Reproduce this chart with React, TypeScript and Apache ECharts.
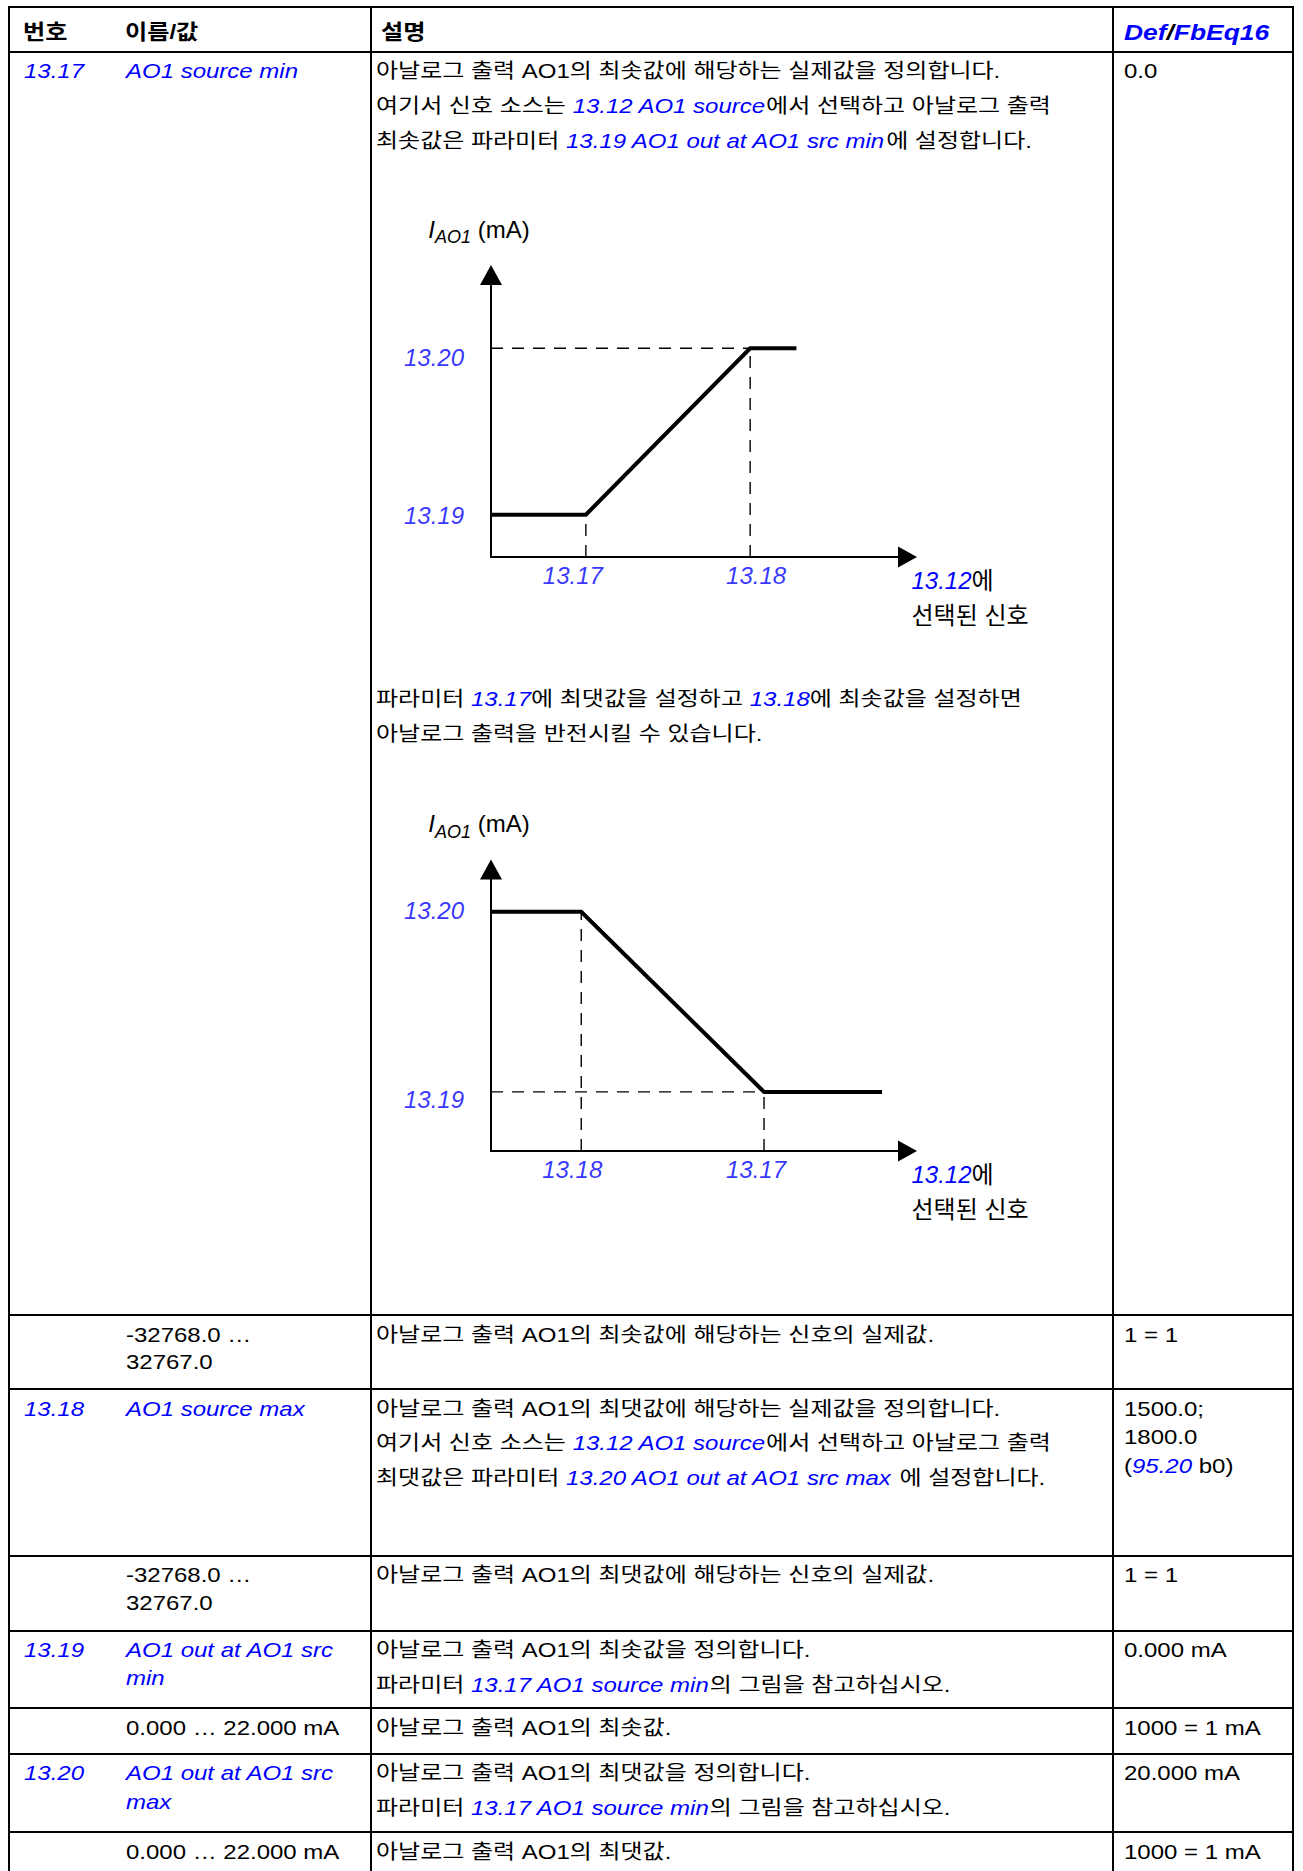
import React, { useEffect, useRef } from 'react';
import * as echarts from 'echarts';

const BLUE = '#0000ff';
const FONT = "'Liberation Sans', Arial, 'Noto Sans CJK KR', sans-serif";

// ---------- diagram data (schematic units) ----------
// normal scaling: output stays at 13.19 up to 13.17, ramps to 13.20 at 13.18
const normalX = [0, 2.05, 5.6, 6.6];
const normalY = [1.5, 1.5, 7.4, 7.4];
// inverted scaling: 13.17 > 13.18
const invertedX = [0, 1.95, 5.9, 8.45];
const invertedY = [8.5, 8.5, 2.1, 2.1];
const normalXTicks = ['13.17', '13.18'];
const invertedXTicks = ['13.18', '13.17'];
const normalYTicks = ['13.19', '13.20'];
const invertedYTicks = ['13.20', '13.19'];
const X_MAX = 9;
const Y_MAX = 10;
const xAxisTitle = ['13.12', '에', '선택된 신호'];
const yAxisTitle = ['I', 'AO1', ' (mA)'];

// ---------- table content ----------
const headerCells = ['번호', '이름/값', '설명'];
const headerDef = ['Def', '/', 'FbEq16'];
// [column, y, text]  ([...] = blue italic parameter reference)
const tableLines: [number, number, string][] = [
  [0, 71, '[13.17]'],
  [1, 71, '[AO1 source min]'],
  [2, 71, '아날로그 출력 AO1의 최솟값에 해당하는 실제값을 정의합니다.'],
  [3, 71, '0.0'],
  [2, 106, '여기서 신호 소스는 [13.12 AO1 source]에서 선택하고 아날로그 출력'],
  [2, 141, '최솟값은 파라미터 [13.19 AO1 out at AO1 src min]에 설정합니다.'],
  [2, 699, '파라미터 [13.17]에 최댓값을 설정하고 [13.18]에 최솟값을 설정하면'],
  [2, 734, '아날로그 출력을 반전시킬 수 있습니다.'],
  [1, 1335, '-32768.0 …'],
  [1, 1362, '32767.0'],
  [2, 1335, '아날로그 출력 AO1의 최솟값에 해당하는 신호의 실제값.'],
  [3, 1335, '1 = 1'],
  [0, 1409, '[13.18]'],
  [1, 1409, '[AO1 source max]'],
  [2, 1409, '아날로그 출력 AO1의 최댓값에 해당하는 실제값을 정의합니다.'],
  [2, 1443, '여기서 신호 소스는 [13.12 AO1 source]에서 선택하고 아날로그 출력'],
  [2, 1478, '최댓값은 파라미터 [13.20 AO1 out at AO1 src max] 에 설정합니다.'],
  [3, 1409, '1500.0;'],
  [3, 1437, '1800.0'],
  [3, 1466, '([95.20] b0)'],
  [1, 1575, '-32768.0 …'],
  [1, 1603, '32767.0'],
  [2, 1575, '아날로그 출력 AO1의 최댓값에 해당하는 신호의 실제값.'],
  [3, 1575, '1 = 1'],
  [0, 1650, '[13.19]'],
  [1, 1650, '[AO1 out at AO1 src]'],
  [1, 1678, '[min]'],
  [2, 1650, '아날로그 출력 AO1의 최솟값을 정의합니다.'],
  [2, 1685, '파라미터 [13.17 AO1 source min]의 그림을 참고하십시오.'],
  [3, 1650, '0.000 mA'],
  [1, 1728, '0.000 … 22.000 mA'],
  [2, 1728, '아날로그 출력 AO1의 최솟값.'],
  [3, 1728, '1000 = 1 mA'],
  [0, 1773, '[13.20]'],
  [1, 1773, '[AO1 out at AO1 src]'],
  [1, 1802, '[max]'],
  [2, 1773, '아날로그 출력 AO1의 최댓값을 정의합니다.'],
  [2, 1808, '파라미터 [13.17 AO1 source min]의 그림을 참고하십시오.'],
  [3, 1773, '20.000 mA'],
  [1, 1852, '0.000 … 22.000 mA'],
  [2, 1852, '아날로그 출력 AO1의 최댓값.'],
  [3, 1852, '1000 = 1 mA'],
];

// ---------- layout (pixels) ----------
const COL_X = [24, 126, 376, 1124];
const HEADER_X = [23, 125, 381];
const DEF_HEADER_X = 1124;
const HEADER_Y = 32;
const ROW_RULES = [7, 52, 1315, 1389, 1556, 1631, 1708, 1754, 1832];
const COL_RULES = [9, 371, 1113, 1293];
const PAGE_W = 1303;
const PAGE_H = 1871;
// label nudges (px) for each diagram's tick texts
const NORMAL_XLABEL_DX = [-13, 6];
const NORMAL_YLABEL_DY = [1, 9];
const INVERTED_XLABEL_DX = [-9, -8];
const INVERTED_YLABEL_DY = [-1, 8];

function markup(s: string): string {
  return s.replace(/\[([^\]]+)\]/g, '{b|$1}');
}

function tableText(x: number, y: number, text: string): any {
  return {
    type: 'text',
    x,
    y,
    scaleX: 1.2,
    silent: true,
    style: {
      text: markup(text),
      fontSize: 20,
      fontFamily: FONT,
      fill: '#000',
      align: 'left',
      verticalAlign: 'middle',
      textAlign: 'left',
      textVerticalAlign: 'middle',
      rich: {
        b: { fill: BLUE, fontStyle: 'italic', fontSize: 20, fontFamily: FONT },
      },
    },
  };
}

function buildGraphic(): any[] {
  const g: any[] = [];
  ROW_RULES.forEach((y) => {
    g.push({
      type: 'line',
      silent: true,
      shape: { x1: COL_RULES[0] - 1, y1: y, x2: COL_RULES[COL_RULES.length - 1] + 1, y2: y },
      style: { stroke: '#000', lineWidth: 2 },
    });
  });
  COL_RULES.forEach((x) => {
    g.push({
      type: 'line',
      silent: true,
      shape: { x1: x, y1: ROW_RULES[0], x2: x, y2: PAGE_H },
      style: { stroke: '#000', lineWidth: 2 },
    });
  });
  headerCells.forEach((t, i) => {
    g.push({
      type: 'text',
      x: HEADER_X[i],
      y: HEADER_Y,
      scaleX: 1.15,
      silent: true,
      style: {
        text: t,
        fontSize: 21,
        fontWeight: 'bold',
        fontFamily: FONT,
        fill: '#000',
        align: 'left',
        verticalAlign: 'middle',
        textAlign: 'left',
        textVerticalAlign: 'middle',
      },
    });
  });
  g.push({
    type: 'text',
    x: DEF_HEADER_X,
    y: HEADER_Y,
    scaleX: 1.2,
    silent: true,
    style: {
      text: `{b|${headerDef[0]}}{k|${headerDef[1]}}{b|${headerDef[2]}}`,
      fontSize: 22,
      fontWeight: 'bold',
      fontStyle: 'italic',
      fontFamily: FONT,
      fill: '#000',
      align: 'left',
      verticalAlign: 'middle',
      textAlign: 'left',
      textVerticalAlign: 'middle',
      rich: {
        b: { fill: BLUE, fontStyle: 'italic', fontWeight: 'bold', fontSize: 22, fontFamily: FONT },
        k: { fill: '#000', fontStyle: 'italic', fontWeight: 'bold', fontSize: 22, fontFamily: FONT },
      },
    },
  });
  tableLines.forEach(([c, y, t]) => g.push(tableText(COL_X[c], y, t)));
  return g;
}

const labelFont = { fontFamily: FONT, fontSize: 24 };

function axesFor(gridIndex: number) {
  const xAxis = {
    gridIndex,
    type: 'value',
    min: 0,
    max: X_MAX,
    axisLine: {
      show: true,
      onZero: false,
      lineStyle: { color: '#000', width: 2 },
      symbol: ['none', 'triangle'],
      symbolSize: [21, 19],
    },
    axisTick: { show: false },
    axisLabel: { show: false },
    splitLine: { show: false },
    name: `{b|${xAxisTitle[0]}}${xAxisTitle[1]}\n${xAxisTitle[2]}`,
    nameLocation: 'end',
    nameGap: 4,
    nameTextStyle: {
      ...labelFont,
      color: '#000',
      align: 'left',
      verticalAlign: 'top',
      lineHeight: 35,
      padding: [6, 0, 0, 0],
      rich: {
        b: { ...labelFont, color: BLUE, fontStyle: 'italic', lineHeight: 35 },
      },
    },
  };
  const yAxis = {
    gridIndex,
    type: 'value',
    min: 0,
    max: Y_MAX,
    axisLine: {
      show: true,
      onZero: false,
      lineStyle: { color: '#000', width: 2 },
      symbol: ['none', 'triangle'],
      symbolSize: [22, 20],
    },
    axisTick: { show: false },
    axisLabel: { show: false },
    splitLine: { show: false },
    name: `{i|${yAxisTitle[0]}}{s|${yAxisTitle[1]}}{n|${yAxisTitle[2]}}`,
    nameLocation: 'end',
    nameGap: 29,
    nameTextStyle: {
      padding: [0, 24, 0, 0],
      rich: {
        i: { ...labelFont, color: '#000', fontStyle: 'italic', lineHeight: 34 },
        s: { fontFamily: FONT, fontSize: 18, color: '#000', fontStyle: 'italic', verticalAlign: 'bottom' },
        n: { ...labelFont, color: '#000', lineHeight: 34 },
      },
    },
  };
  return { xAxis, yAxis };
}

function seriesFor(
  gi: number,
  xs: number[],
  ys: number[],
  xTicks: string[],
  yTicks: string[],
  xdx: number[],
  ydy: number[],
): any[] {
  const dash = { color: '#000', width: 1.4, type: [12, 9] };
  const guide = (data: number[][]) => ({
    type: 'line',
    xAxisIndex: gi,
    yAxisIndex: gi,
    data,
    symbol: 'none',
    silent: true,
    lineStyle: dash,
    z: 1,
  });
  const tickLabel = { color: BLUE, fontStyle: 'italic', ...labelFont, formatter: (p: any) => p.name };
  return [
    guide([[0, ys[2]], [xs[2], ys[2]]]),
    guide([[xs[1], 0], [xs[1], ys[1]]]),
    guide([[xs[2], 0], [xs[2], ys[2]]]),
    {
      type: 'line',
      xAxisIndex: gi,
      yAxisIndex: gi,
      data: xs.map((x, i) => [x, ys[i]]),
      symbol: 'none',
      silent: true,
      lineStyle: { color: '#000', width: 4, join: 'miter' },
      z: 3,
    },
    {
      type: 'scatter',
      xAxisIndex: gi,
      yAxisIndex: gi,
      symbolSize: 0,
      silent: true,
      clip: false,
      data: [1, 2].map((k, j) => ({
        value: [xs[k], 0],
        name: xTicks[j],
        label: { show: true, position: 'bottom', distance: 6, offset: [xdx[j], 0], ...tickLabel },
      })),
    },
    {
      type: 'scatter',
      xAxisIndex: gi,
      yAxisIndex: gi,
      symbolSize: 0,
      silent: true,
      clip: false,
      data: [1, 2].map((k, j) => ({
        value: [0, ys[k]],
        name: yTicks[j],
        label: { show: true, position: 'left', distance: 27, offset: [0, ydy[j]], ...tickLabel },
      })),
    },
  ];
}

function buildOption(): any {
  const a0 = axesFor(0);
  const a1 = axesFor(1);
  return {
    animation: false,
    backgroundColor: '#fff',
    grid: [
      { left: 491, top: 275, width: 416.5, height: 282, containLabel: false, outerBoundsMode: 'none' },
      { left: 491, top: 869.5, width: 416.5, height: 281.5, containLabel: false, outerBoundsMode: 'none' },
    ],
    xAxis: [a0.xAxis, a1.xAxis],
    yAxis: [a0.yAxis, a1.yAxis],
    series: [
      ...seriesFor(0, normalX, normalY, normalXTicks, normalYTicks, NORMAL_XLABEL_DX, NORMAL_YLABEL_DY),
      ...seriesFor(1, invertedX, invertedY, invertedXTicks, invertedYTicks, INVERTED_XLABEL_DX, INVERTED_YLABEL_DY),
    ],
    graphic: buildGraphic(),
  };
}

export default function App() {
  const ref = useRef<HTMLDivElement>(null);
  useEffect(() => {
    if (!ref.current) return;
    const chart = echarts.init(ref.current, null, { renderer: 'svg' });
    chart.setOption(buildOption());
    return () => chart.dispose();
  }, []);
  return (
    <div
      ref={ref}
      style={{ position: 'fixed', left: 0, top: 0, width: PAGE_W, height: PAGE_H, background: '#fff' }}
    />
  );
}
